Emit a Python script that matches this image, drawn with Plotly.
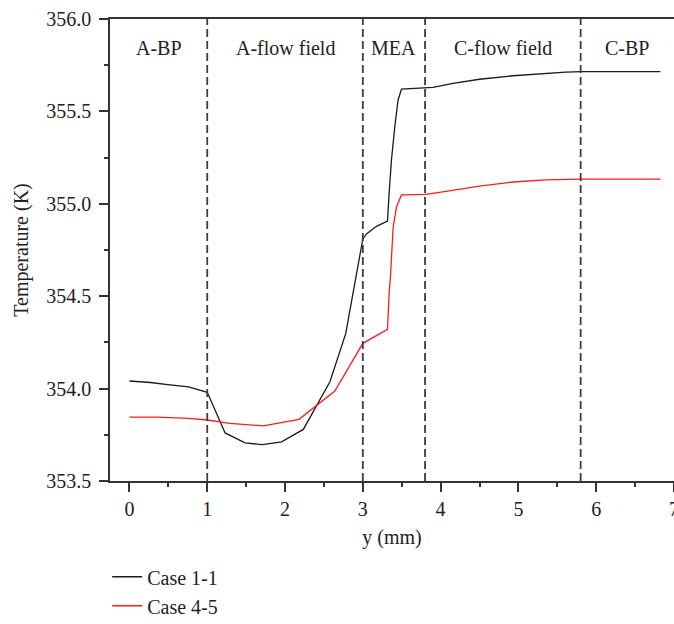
import plotly.graph_objects as go

# Case 1-1 (black)
x_case11 = [0, 0.27, 0.52, 0.76, 1.0, 1.23, 1.485, 1.71, 1.955, 2.235, 2.577, 2.78, 3.0,
            3.047, 3.175, 3.317, 3.338, 3.368, 3.411, 3.453, 3.497, 3.805,
            3.90, 4.16, 4.50, 4.93, 5.36, 5.61, 5.81, 6.825]
t_case11 = [354.041, 354.033, 354.020, 354.009, 353.980, 353.760, 353.706, 353.697, 353.712,
            353.779, 354.037, 354.297, 354.810,
            354.837, 354.878, 354.907, 355.057, 355.237, 355.417, 355.562, 355.620, 355.625,
            355.630, 355.652, 355.674, 355.693, 355.708, 355.713, 355.715, 355.715]

# Case 4-5 (red)
x_case45 = [0, 0.35, 0.76, 1.0, 1.29, 1.72, 2.18, 2.64, 3.0,
            3.317, 3.338, 3.355, 3.39, 3.433, 3.497, 3.805,
            3.90, 4.16, 4.50, 4.93, 5.36, 5.81, 6.825]
t_case45 = [353.846, 353.846, 353.839, 353.830, 353.812, 353.798, 353.834, 353.987, 354.245,
            354.321, 354.516, 354.606, 354.876, 354.984, 355.048, 355.051,
            355.057, 355.075, 355.096, 355.118, 355.129, 355.134, 355.134]

series_names = ["Case 1-1", "Case 4-5"]
series_colors = ["#1a1a1a", "#ff1a1a"]

# region boundaries (mm) and labels
x_min, x_max = -0.25, 7.0
boundaries = [1.0, 3.0, 3.8, 5.8]
region_labels = ["A-BP", "A-flow field", "MEA", "C-flow field", "C-BP"]

FONT = "Liberation Serif"
AX = "#333333"

fig = go.Figure()
for xs, ts, name, col in zip([x_case11, x_case45], [t_case11, t_case45], series_names, series_colors):
    fig.add_trace(go.Scatter(x=xs, y=ts, mode="lines", name=name,
                             line=dict(color=col, width=1.3)))

for b in boundaries:
    fig.add_shape(type="line", xref="x", yref="paper", x0=b, x1=b, y0=0, y1=1,
                  line=dict(color="#3c3c3c", width=1.8, dash="8px,4px"), layer="above")

edges = [x_min] + boundaries + [x_max]
for i, lab in enumerate(region_labels):
    fig.add_annotation(x=(edges[i] + edges[i + 1]) / 2, y=0.937, xref="x", yref="paper",
                       text=lab, showarrow=False, yanchor="middle",
                       font=dict(family=FONT, size=20, color="#222"))

fig.update_layout(
    width=674, height=624,
    margin=dict(l=110, r=0, t=19, b=143, autoexpand=False),
    paper_bgcolor="white", plot_bgcolor="white",
    font=dict(family=FONT, size=20, color="#222"),
    showlegend=True,
    legend=dict(orientation="v", x=-0.005, xanchor="left", y=-0.165, yanchor="top",
                font=dict(family=FONT, size=20, color="#222"),
                bgcolor="rgba(0,0,0,0)", itemwidth=30, tracegroupgap=0),
)
fig.update_xaxes(
    range=[x_min, x_max], showgrid=False, zeroline=False, automargin=False,
    showline=True, linecolor=AX, linewidth=1.5, mirror=True,
    ticks="outside", ticklen=9, tickwidth=1.5, tickcolor=AX,
    tick0=0, dtick=1, ticklabeloverflow="allow",
    minor=dict(ticks="outside", ticklen=4, tickwidth=1.5, tickcolor=AX, dtick=0.5, tick0=0),
    title=dict(text="y (mm)", font=dict(family=FONT, size=20, color="#222"), standoff=11),
    tickfont=dict(family=FONT, size=20, color="#222"),
)
fig.update_yaxes(
    range=[353.5, 356.0], showgrid=False, zeroline=False, automargin=False,
    showline=True, linecolor=AX, linewidth=1.5, mirror=False,
    ticks="outside", ticklen=9, tickwidth=1.5, tickcolor=AX,
    tick0=353.5, dtick=0.5, tickformat=".1f", ticklabelstandoff=4,
    minor=dict(ticks="outside", ticklen=4, tickwidth=1.5, tickcolor=AX, dtick=0.25, tick0=353.5),
    title=dict(text="Temperature (K)", font=dict(family=FONT, size=20, color="#222"), standoff=12),
    tickfont=dict(family=FONT, size=20, color="#222"),
)

fig.write_html("out.html", config={"displayModeBar": False},
               post_script="document.body.style.margin='0';document.body.style.overflow='hidden';")
